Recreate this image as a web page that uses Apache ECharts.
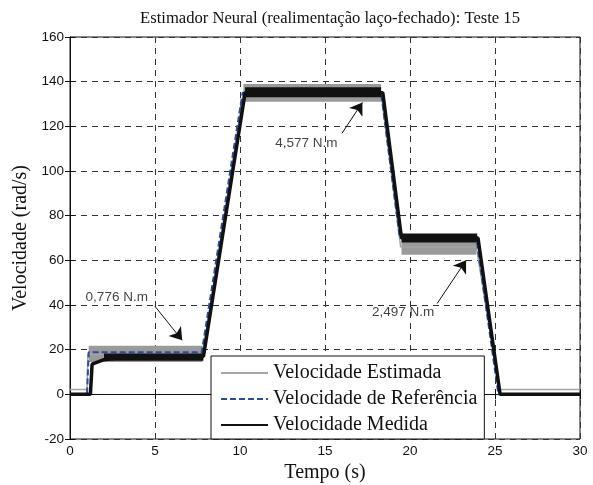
<!DOCTYPE html>
<html>
<head>
<meta charset="utf-8">
<script src="https://cdn.jsdelivr.net/npm/echarts@6/dist/echarts.min.js"></script>
<style>
  html, body { margin: 0; padding: 0; background: #fff; }
  #chart { width: 593px; height: 485px; }
</style>
</head>
<body>
<div id="chart"></div>
<script>
// velocity profiles (time in s, speed in rad/s)
const refTime = [0, 1.0, 1.1, 7.75, 10.15, 18.3, 19.4, 23.9, 25.2, 30]
const refSpeed = [0, 0, 18.8, 18.8, 135, 135, 70, 70, 0, 0]

const estTime = [0, 1.0, 1.05, 7.8, 10.2, 18.3, 19.45, 23.9, 25.25, 30]
const estSpeed = [2.2, 2.2, 18, 18, 135, 135, 66, 66, 2.2, 2.2]

const measTime = [0, 1.2, 1.3, 2, 3, 7.85, 10.3, 18.4, 19.5, 24.0, 25.3, 30]
const measSpeed = [0, 0, 13.5, 15.5, 16.5, 17, 135, 135, 70, 70, 0, 0]

// noise bands on the plateaus: start, end, low, high
const estBandStart = [1.1, 10.2, 19.5]
const estBandEnd = [7.8, 18.3, 23.9]
const estBandLow = [14.5, 131, 62.5]
const estBandHigh = [21.8, 139, 68.5]

const measBandStart = [2, 10.3, 19.5]
const measBandEnd = [7.85, 18.3, 23.95]
const measBandLow = [15, 133, 68]
const measBandHigh = [18.3, 137.5, 72]

// annotations
const noteText = ['0,776 N.m', '4,577 N.m', '2,497 N.m']
const noteX = [2.75, 13.9, 19.6]
const noteY = [43.4, 112.4, 36.7]
const arrowX0 = [5.0, 16.0, 21.6]
const arrowY0 = [39.4, 116.9, 40.7]
const arrowX1 = [6.6, 17.2, 23.3]
const arrowY1 = [24.2, 130.7, 60]

const xTicks = [0, 5, 10, 15, 20, 25, 30]
const yTicks = [-20, 0, 20, 40, 60, 80, 100, 120, 140, 160]

const serif = 'Liberation Serif'
const sans = 'Liberation Sans'

const pairs = (xs, ys) => xs.map((x, i) => [x, ys[i]])
const bands = (s, e, lo, hi) => s.map((v, i) => [v, e[i], lo[i], hi[i]])

const bandRenderer = (color) => (params, api) => {
  const p0 = api.coord([api.value(0), api.value(3)])
  const p1 = api.coord([api.value(1), api.value(2)])
  return {
    type: 'rect',
    shape: { x: p0[0], y: p0[1], width: p1[0] - p0[0], height: p1[1] - p0[1] },
    style: { fill: color },
  }
}

const gridLine = {
  show: true,
  lineStyle: { color: '#333', width: 1, type: [6, 5] },
}

const chart = echarts.init(document.getElementById('chart'))

chart.setOption({
  animation: false,
  backgroundColor: '#fff',
  title: {
    text: 'Estimador Neural (realimentação laço-fechado): Teste 15',
    left: 325,
    textAlign: 'center',
    top: 5,
    textStyle: { fontFamily: serif, fontSize: 16.6, fontWeight: 'normal', color: '#111' },
  },
  grid: {
    left: 70,
    right: 13,
    top: 37,
    bottom: 46,
    outerBoundsMode: 'none',
    show: true,
    borderColor: '#111',
    borderWidth: 1,
  },
  legend: {
    data: ['Velocidade Estimada', 'Velocidade de Referência', 'Velocidade Medida'],
    orient: 'vertical',
    left: 211,
    top: 356,
    itemWidth: 47,
    itemHeight: 14,
    itemGap: 6,
    padding: [7, 7, 4, 9],
    backgroundColor: '#fff',
    borderColor: '#111',
    borderWidth: 1,
    borderRadius: 0,
    itemStyle: { opacity: 0 },
    textStyle: { fontFamily: serif, fontSize: 20, color: '#111' },
    selectedMode: false,
    z: 10,
  },
  xAxis: [
    {
      type: 'value',
      min: 0,
      max: 30,
      interval: 5,
      name: 'Tempo (s)',
      nameLocation: 'middle',
      nameGap: 20,
      nameTextStyle: { fontFamily: serif, fontSize: 20, color: '#111' },
      axisLine: { show: true, lineStyle: { color: '#111' } },
      axisTick: { show: true, inside: true, length: 5, lineStyle: { color: '#111' } },
      axisLabel: {
        fontFamily: sans,
        fontSize: 13.5,
        color: '#111',
        margin: 5,
        formatter: (v) => (xTicks.includes(v) ? String(v) : ''),
      },
      splitLine: gridLine,
    },
    {
      type: 'value',
      position: 'top',
      min: 0,
      max: 30,
      interval: 5,
      axisLine: { show: true, lineStyle: { color: '#111' } },
      axisTick: { show: true, inside: true, length: 5, lineStyle: { color: '#111' } },
      axisLabel: { show: false },
      splitLine: { show: false },
    },
  ],
  yAxis: [
    {
      type: 'value',
      min: -20,
      max: 160,
      interval: 20,
      name: 'Velocidade (rad/s)',
      nameLocation: 'middle',
      nameGap: 29,
      nameTextStyle: { fontFamily: serif, fontSize: 20, color: '#111' },
      axisLine: { show: true, lineStyle: { color: '#111' } },
      axisTick: { show: true, inside: true, length: 5, lineStyle: { color: '#111' } },
      axisLabel: {
        fontFamily: sans,
        fontSize: 13.5,
        color: '#111',
        margin: 6,
        formatter: (v) => (yTicks.includes(v) ? String(v) : ''),
      },
      splitLine: gridLine,
    },
    {
      type: 'value',
      position: 'right',
      min: -20,
      max: 160,
      interval: 20,
      axisLine: { show: true, lineStyle: { color: '#111' } },
      axisTick: { show: true, inside: true, length: 5, lineStyle: { color: '#111' } },
      axisLabel: { show: false },
      splitLine: { show: false },
    },
  ],
  series: [
    {
      name: 'est-band',
      type: 'custom',
      renderItem: bandRenderer('#9a9a9a'),
      encode: { x: [0, 1], y: [2, 3] },
      data: bands(estBandStart, estBandEnd, estBandLow, estBandHigh),
      silent: true,
      z: 2,
    },
    {
      name: 'Velocidade Estimada',
      type: 'line',
      data: pairs(estTime, estSpeed),
      showSymbol: false,
      symbol: 'none',
      lineStyle: { color: '#a5a5a5', width: 1.5 },
      itemStyle: { color: '#a5a5a5' },
      silent: true,
      z: 3,
    },
    {
      name: 'Velocidade de Referência',
      type: 'line',
      data: pairs(refTime, refSpeed),
      showSymbol: false,
      symbol: 'none',
      lineStyle: { color: '#2b4ba6', width: 2, type: [6, 3] },
      itemStyle: { color: '#2b4ba6' },
      silent: true,
      z: 4,
    },
    {
      name: 'meas-band',
      type: 'custom',
      renderItem: bandRenderer('#111'),
      encode: { x: [0, 1], y: [2, 3] },
      data: bands(measBandStart, measBandEnd, measBandLow, measBandHigh),
      silent: true,
      z: 5,
    },
    {
      name: 'Velocidade Medida',
      type: 'line',
      data: pairs(measTime, measSpeed),
      showSymbol: false,
      symbol: 'none',
      lineStyle: { color: '#111', width: 3.5 },
      itemStyle: { color: '#111' },
      silent: true,
      z: 6,
      markLine: {
        silent: true,
        symbol: ['none', 'arrow'],
        symbolSize: 12,
        label: { show: false },
        lineStyle: { color: '#111', width: 1, type: 'solid' },
        data: arrowX0.map((x, i) => [
          { coord: [x, arrowY0[i]] },
          { coord: [arrowX1[i], arrowY1[i]] },
        ]),
      },
    },
    {
      name: 'notes',
      type: 'scatter',
      data: noteX.map((x, i) => ({ value: [x, noteY[i]], name: noteText[i] })),
      symbolSize: 0,
      silent: true,
      z: 7,
      label: {
        show: true,
        position: 'inside',
        formatter: (p) => p.name,
        fontFamily: sans,
        fontSize: 13.5,
        color: '#111',
      },
    },
  ],
})
</script>
</body>
</html>
